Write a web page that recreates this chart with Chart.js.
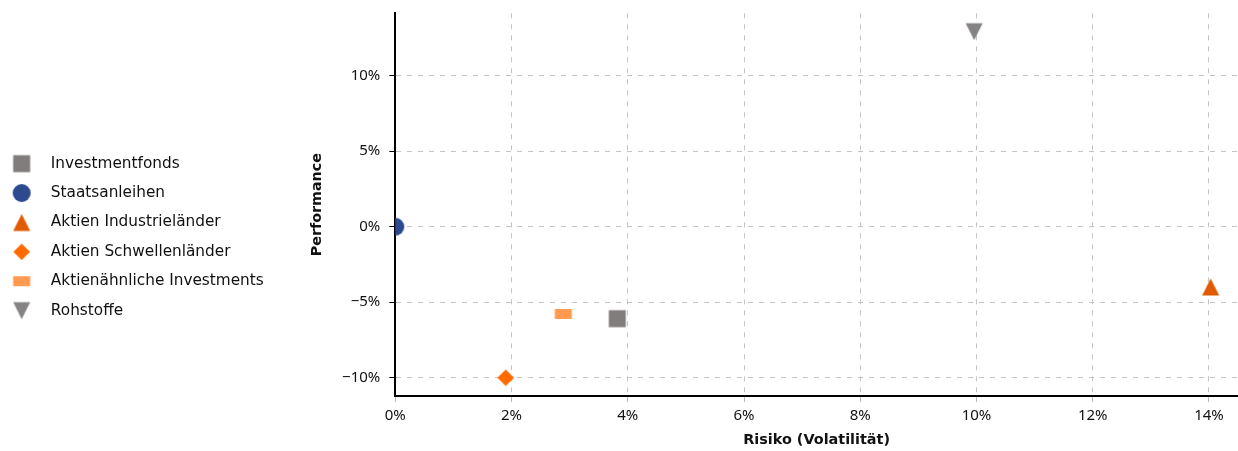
<!DOCTYPE html>
<html><head><meta charset="utf-8">
<script src="https://cdn.jsdelivr.net/npm/chart.js@4.4.1/dist/chart.umd.min.js"></script>
<style>html,body{margin:0;padding:0;background:#fff;}canvas{display:block;}</style>
</head><body>
<canvas id="c" width="1238" height="451"></canvas>
<script>
// ---- data ----
const seriesNames = ['Investmentfonds', 'Staatsanleihen', 'Aktien Industrieländer', 'Aktien Schwellenländer', 'Aktienähnliche Investments', 'Rohstoffe'];
const riskValues = [3.82, 0, 14.03, 1.90, 2.89, 9.96];
const performanceValues = [-6.09, 0, -3.99, -10.0, -5.78, 12.91];
const xTickValues = [0, 2, 4, 6, 8, 10, 12, 14];
const yTickValues = [-10, -5, 0, 5, 10];
const xAxisTitle = 'Risiko (Volatilität)';
const yAxisTitle = 'Performance';

// ---- styles ----
const seriesColors = ['#827d7d', '#2d4a8f', '#e05a00', '#ff6a00', '#ff9a50', '#858383'];
const seriesShapes = ['square', 'circle', 'triangleUp', 'diamond', 'bar', 'triangleDown'];
const tickFont = { family: "'Noto Sans', 'DejaVu Sans', sans-serif", size: 15 };

function makeMarker(shape, color, cw, ch, cx, cy) {
  const cv = document.createElement('canvas');
  cv.width = cw; cv.height = ch;
  const g = cv.getContext('2d');
  g.fillStyle = color;
  g.beginPath();
  if (shape === 'square') g.rect(cx - 8.5, cy - 8.5, 17, 17);
  else if (shape === 'circle') g.arc(cx, cy, 9, 0, Math.PI * 2);
  else if (shape === 'triangleUp') { g.moveTo(cx, cy - 8.5); g.lineTo(cx + 8.5, cy + 8.5); g.lineTo(cx - 8.5, cy + 8.5); }
  else if (shape === 'diamond') { g.moveTo(cx, cy - 8.3); g.lineTo(cx + 8.3, cy); g.lineTo(cx, cy + 8.3); g.lineTo(cx - 8.3, cy); }
  else if (shape === 'bar') g.rect(cx - 8.5, cy - 5, 17, 10);
  else if (shape === 'triangleDown') { g.moveTo(cx - 8.5, cy - 8.5); g.lineTo(cx + 8.5, cy - 8.5); g.lineTo(cx, cy + 8.5); }
  g.closePath();
  g.fill();
  return cv;
}
const pointMarkers = seriesShapes.map((s, i) => makeMarker(s, seriesColors[i], 20, 20, 10, 10));
const legendMarkers = seriesShapes.map((s, i) => makeMarker(s, seriesColors[i], 44, 20, 15, 10));

const datasets = seriesNames.map((name, i) => ({
  label: name,
  data: [{ x: riskValues[i], y: performanceValues[i] }],
  backgroundColor: seriesColors[i],
  borderColor: seriesColors[i],
  pointStyle: pointMarkers[i],
  pointRadius: 9,
  pointHoverRadius: 9,
  clip: 0
}));

const legendFix = {
  id: 'legendFix',
  beforeInit(chart) {
    const lg = chart.legend;
    if (lg) {
      const fit = lg.fit;
      lg.fit = function () { fit.call(this); this.width = 290; };
    }
  }
};

Chart.defaults.font.family = "'DejaVu Sans', sans-serif";
Chart.defaults.color = '#111';

new Chart(document.getElementById('c'), {
  type: 'scatter',
  data: { datasets },
  plugins: [legendFix],
  options: {
    responsive: false,
    animation: false,
    layout: { autoPadding: false, padding: { top: 13.3, left: 0, right: 0, bottom: 0 } },
    plugins: {
      tooltip: { enabled: false },
      legend: {
        position: 'left',
        align: 'center',
        title: { display: true, text: '', padding: 0, font: { size: 10, lineHeight: 1 } },
        labels: {
          usePointStyle: true,
          pointStyleWidth: 29.1,
          padding: 14.1,
          color: '#111',
          font: { size: 15.3 },
          generateLabels(chart) {
            return chart.data.datasets.map((ds, i) => ({
              text: ds.label,
              fillStyle: ds.backgroundColor,
              strokeStyle: ds.backgroundColor,
              lineWidth: 0,
              pointStyle: legendMarkers[i],
              hidden: !chart.isDatasetVisible(i),
              datasetIndex: i,
              fontColor: '#111'
            }));
          }
        }
      }
    },
    scales: {
      x: {
        type: 'linear',
        min: 0,
        max: 14.5,
        afterBuildTicks: axis => { axis.ticks = xTickValues.map(v => ({ value: v })); },
        afterFit: axis => { axis.height = 55; axis.paddingLeft = 0; axis.paddingRight = 0; },
        ticks: { callback: v => v + '%', font: tickFont, color: '#111', padding: 5, maxRotation: 0 },
        grid: { color: '#c4c4c4', lineWidth: 1, tickLength: 6, tickColor: '#b8b8b8', tickBorderDash: [] },
        border: { display: true, color: '#000', width: 2, dash: [5, 6] },
        title: { display: true, text: xAxisTitle, font: { size: 14.4, weight: 'bold' }, color: '#111', padding: { top: 0, bottom: 1.6 } }
      },
      y: {
        type: 'linear',
        min: -11.21,
        max: 14.13,
        afterBuildTicks: axis => { axis.ticks = yTickValues.map(v => ({ value: v })); },
        afterFit: axis => { axis.width = 105.3; axis.paddingTop = 0; axis.paddingBottom = 0; },
        ticks: { callback: v => (v < 0 ? '\u2212' + Math.abs(v) : v) + '%', font: tickFont, color: '#111', padding: 9 },
        grid: { color: '#c4c4c4', lineWidth: 1, tickLength: 6, tickColor: '#000', tickBorderDash: [] },
        border: { display: true, color: '#000', width: 2, dash: [5, 6] },
        title: { display: true, text: yAxisTitle, font: { size: 14.3, weight: 'bold' }, color: '#111', padding: { top: 18.6, bottom: 0 } }
      }
    }
  }
});
</script>
</body></html>
